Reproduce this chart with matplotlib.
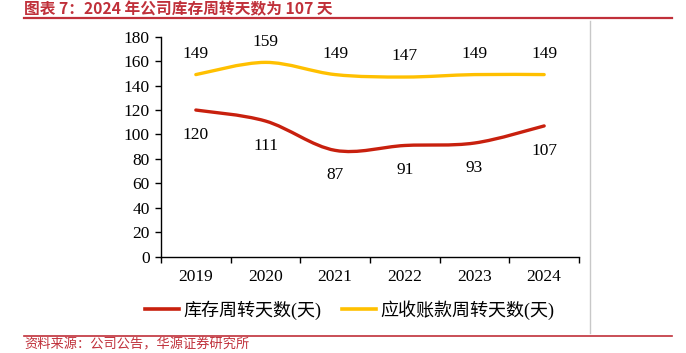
#!/usr/bin/env python3

import matplotlib
matplotlib.use('Agg')
import matplotlib.pyplot as plt
from matplotlib.path import Path
from matplotlib.patches import PathPatch
from matplotlib.lines import Line2D

years = ['2019', '2020', '2021', '2022', '2023', '2024']
inventory_days = [120, 111, 87, 91, 93, 107]
receivable_days = [149, 159, 149, 147, 149, 149]
series_names = ['库存周转天数(天)', '应收账款周转天数(天)']
title = '图表 7：2024 年公司库存周转天数为 107 天'
source = '资料来源：公司公告，华源证券研究所'

red = '#C8200E'
yellow = '#FFC000'
title_red = '#C0303A'
num_font = 'Liberation Serif'
cjk_fonts = ['Liberation Serif', 'Noto Sans CJK SC']


def smooth_path(xs, ys):
  # bezier like the office "smoothed line" option
  pts = list(zip(xs, ys))
  verts = [pts[0]]
  codes = [Path.MOVETO]
  n = len(pts)
  for i in range(n - 1):
    p0 = pts[i - 1] if i > 0 else pts[i]
    p1 = pts[i]
    p2 = pts[i + 1]
    p3 = pts[i + 2] if i + 2 < n else pts[i + 1]
    c1 = (p1[0] + (p2[0] - p0[0]) / 6, p1[1] + (p2[1] - p0[1]) / 6)
    c2 = (p2[0] - (p3[0] - p1[0]) / 6, p2[1] - (p3[1] - p1[1]) / 6)
    verts += [c1, c2, p2]
    codes += [Path.CURVE4] * 3
  return Path(verts, codes)


fig = plt.figure(figsize=(6.86, 3.53), dpi=100)
ax = fig.add_axes([161 / 686, 1 - 256.7 / 353, 418 / 686, 220 / 353])

xs = list(range(len(years)))
for vals, colour in [(inventory_days, red), (receivable_days, yellow)]:
  ax.add_patch(PathPatch(smooth_path(xs, vals), fill=False, edgecolor=colour,
                         lw=2.4, capstyle='round', joinstyle='round'))

for x, v in zip(xs, receivable_days):
  ax.annotate(str(v), (x, v), xytext=(0, 15), textcoords='offset points',
              ha='center', va='center', fontsize=12.5, family=num_font)
for x, v in zip(xs, inventory_days):
  ax.annotate(str(v), (x, v), xytext=(0, -18), textcoords='offset points',
              ha='center', va='center', fontsize=12.5, family=num_font)

ax.set_xlim(-0.5, len(years) - 0.5)
ax.set_ylim(0, 180)
ax.set_yticks(range(0, 181, 20))
ax.set_xticks(xs)
ax.set_xticklabels(years)
ax.set_xticks([i - 0.5 for i in range(len(years) + 1)], minor=True)
ax.tick_params(axis='x', which='major', length=0, pad=9)
ax.tick_params(axis='x', which='minor', length=4, width=1, direction='out')
ax.tick_params(axis='y', length=4, width=1, direction='out', pad=4)
for lab in ax.get_xticklabels() + ax.get_yticklabels():
  lab.set_family(num_font)
  lab.set_fontsize(12.5)
for s in ['top', 'right']:
  ax.spines[s].set_visible(False)
for s in ['left', 'bottom']:
  ax.spines[s].set_linewidth(1)

handles = [Line2D([], [], color=red, lw=2.6), Line2D([], [], color=yellow, lw=2.6)]
leg = fig.legend(handles, series_names, loc='center', bbox_to_anchor=(0.51, 1 - 310 / 353),
                 ncol=2, frameon=False, handlelength=1.9, handletextpad=0.25,
                 columnspacing=1.1, prop={'family': cjk_fonts, 'size': 13})

# title, underline, frame line, source
fig.text(24 / 686, 1 - 9 / 353, title, color=title_red, fontsize=11.3, fontweight='bold',
         family=['Noto Sans CJK SC'], ha='left', va='center')
fig.add_artist(Line2D([24 / 686, 672 / 686], [1 - 17.5 / 353] * 2, color=title_red, lw=1.6))
fig.add_artist(Line2D([24 / 686, 672 / 686], [1 - 335.5 / 353] * 2, color=title_red, lw=1.2))
fig.add_artist(Line2D([590 / 686] * 2, [1 - 21 / 353, 1 - 333 / 353], color='#C8C8C8', lw=1))
fig.text(24 / 686, 1 - 344.5 / 353, source, color=title_red, fontsize=9.5,
         family=['Noto Sans CJK SC'], ha='left', va='center')

fig.savefig('out.png', dpi=100)
